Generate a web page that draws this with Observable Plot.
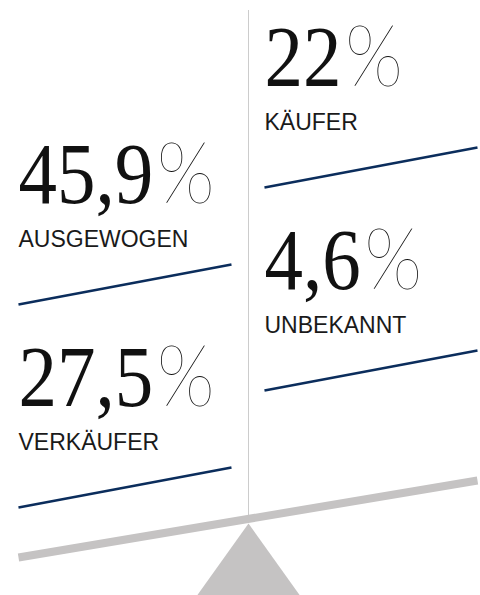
<!DOCTYPE html>
<html>
<head>
<meta charset="utf-8">
<script src="https://cdn.jsdelivr.net/npm/d3@7"></script>
<script src="https://cdn.jsdelivr.net/npm/@observablehq/plot@0.6"></script>
<style>
  html, body { margin: 0; padding: 0; background: #fff; }
  #chart svg { display: block; }
  tspan.pct { font-family: Lato, "Open Sans", sans-serif; font-weight: 100; }
</style>
</head>
<body>
<div id="chart"></div>
<script>
// Data
const labels = ["AUSGEWOGEN", "VERKÄUFER", "KÄUFER", "UNBEKANNT"];
const values = [45.9, 27.5, 22, 4.6];
const sides = ["links", "links", "rechts", "rechts"];
const slots = [0, 1, 0, 1];

// Layout geometry of the scale graphic (in drawing units)
const W = 480, H = 595;
const colX = {links: 18, rechts: 264};
const firstBaseline = {links: 202, rechts: 85};
const slotStep = 203;
const labelGap = 44;
const plateLen = 213;
const beam = [{x: 18, y: 557}, {x: 477, y: 480}];
const pivot = {x: 248, top: 523, bottom: 607, half: 60};
const postTop = 10;

const fmt = v => v.toLocaleString("de-DE") + "%";

const items = labels.map((label, i) => {
  const x = colX[sides[i]];
  const yNum = firstBaseline[sides[i]] + slots[i] * slotStep;
  const yLab = yNum + labelGap;
  return {
    label, value: values[i], text: fmt(values[i]),
    x, yNum, yLab,
    px1: x, py1: yLab + 58, px2: x + plateLen, py2: yLab + 18
  };
});

const triangle = [
  {x: pivot.x, y: pivot.top},
  {x: pivot.x - pivot.half, y: pivot.bottom},
  {x: pivot.x + pivot.half, y: pivot.bottom}
];

const grey = "#c5c3c3";
const navy = "#0b2d5c";

const chart = Plot.plot({
  width: W,
  height: H,
  margin: 0,
  x: {domain: [0, W], range: [0, W], axis: null},
  y: {domain: [0, H], range: [0, H], axis: null},
  marks: [
    Plot.ruleX([pivot.x], {y1: postTop, y2: beam[0].y + (beam[1].y - beam[0].y) * (pivot.x - beam[0].x) / (beam[1].x - beam[0].x), stroke: "#cccccc", strokeWidth: 1}),
    Plot.line(beam, {x: "x", y: "y", stroke: grey, strokeWidth: 8, strokeLinecap: "butt"}),
    Plot.line(triangle, {x: "x", y: "y", fill: grey, stroke: "none"}),
    Plot.link(items, {x1: "px1", y1: "py1", x2: "px2", y2: "py2", stroke: navy, strokeWidth: 2.5}),
    Plot.text(items, {x: "x", y: "yNum", text: "text", textAnchor: "start", lineAnchor: "bottom",
      fontSize: 87, fontFamily: "Liberation Serif", fill: "#111"}),
    Plot.text(items, {x: "x", y: "yLab", text: "label", textAnchor: "start", lineAnchor: "bottom",
      fontSize: 23, fontFamily: "Liberation Sans", fill: "#1a1a1a"})
  ]
});

// Condense the large serif numbers horizontally and draw the % sign in a hairline face
chart.querySelectorAll('g[font-size="87"] text').forEach(t => {
  const tr = t.getAttribute("transform") || "";
  t.setAttribute("transform", tr + " scale(0.885,1)");
  const s = t.textContent;
  if (s.endsWith("%")) {
    t.textContent = s.slice(0, -1);
    const ts = document.createElementNS("http://www.w3.org/2000/svg", "tspan");
    ts.setAttribute("class", "pct");
    ts.setAttribute("font-size", "86");
    ts.setAttribute("dx", "4");
    ts.textContent = "%";
    t.appendChild(ts);
  }
});

document.getElementById("chart").appendChild(chart);
</script>
</body>
</html>
